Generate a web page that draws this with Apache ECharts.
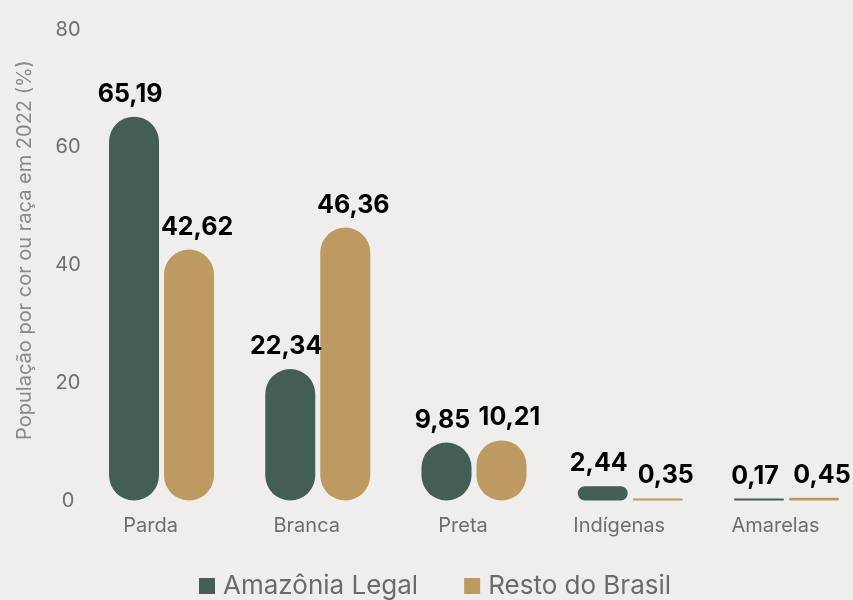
<!DOCTYPE html>
<html>
<head>
<meta charset="utf-8">
<script src="https://cdn.jsdelivr.net/npm/echarts@6/dist/echarts.min.js"></script>
<style>
  html, body { margin: 0; padding: 0; background: #efeeec; overflow: hidden; }
  /* the plot runs slightly past the right edge of the page */
  #chart { width: 880px; height: 600px; }
</style>
</head>
<body>
<div id="chart"></div>
<script>
// População por cor ou raça em 2022 (%)
const categories = ['Parda', 'Branca', 'Preta', 'Indígenas', 'Amarelas'];
const amazoniaLegal = [65.19, 22.34, 9.85, 2.44, 0.17];
const restoDoBrasil = [42.62, 46.36, 10.21, 0.35, 0.45];
const yTicks = [0, 20, 40, 60, 80];

const fmt = v => v.toFixed(2).replace('.', ',');

// value labels above each bar, nudged apart horizontally per series
const valueLabel = dx => ({
  show: true,
  position: 'top',
  distance: 10,
  offset: [dx, 0],
  color: '#000',
  fontFamily: 'Inter',
  fontWeight: 700,
  fontSize: 25,
  formatter: p => fmt(p.value)
});

const chart = echarts.init(document.getElementById('chart'), null, { renderer: 'canvas' });
chart.setOption({
  backgroundColor: '#efeeec',
  animation: false,
  grid: { left: 83.4, width: 781.2, top: 29.5, bottom: 99.5, containLabel: false },
  legend: {
    data: ['Amazônia Legal', 'Resto do Brasil'],
    left: 194,
    top: 568,
    itemWidth: 16,
    itemHeight: 16,
    itemGap: 46,
    icon: 'rect',
    textStyle: { color: '#6b6b6b', fontSize: 26, fontFamily: 'Inter', padding: [0, 0, 0, 3] }
  },
  xAxis: {
    type: 'category',
    data: categories,
    axisLine: { show: false },
    axisTick: { show: false },
    axisLabel: {
      color: '#6e6e6e',
      fontSize: 20,
      fontFamily: 'Inter',
      margin: 15,
      padding: [0, 22, 0, 0]
    }
  },
  yAxis: {
    type: 'value',
    min: yTicks[0],
    max: yTicks[yTicks.length - 1],
    interval: yTicks[1] - yTicks[0],
    name: 'População por cor ou raça em 2022 (%)',
    nameLocation: 'middle',
    nameGap: 48,
    nameTextStyle: { color: '#8a8a8a', fontSize: 20, fontFamily: 'Inter', padding: [0, 0, 0, 30] },
    splitLine: { show: false },
    axisLine: { show: false },
    axisTick: { show: false },
    axisLabel: {
      color: '#6e6e6e',
      fontSize: 20,
      fontFamily: 'Inter',
      align: 'center',
      margin: 15.4,
      padding: [0, 0, 7, 0]
    }
  },
  series: [
    {
      name: 'Amazônia Legal',
      type: 'bar',
      data: amazoniaLegal,
      barWidth: 50,
      barGap: '10%',
      barMinHeight: 2,
      itemStyle: { color: '#435f55', borderRadius: 25 },
      label: valueLabel(-4)
    },
    {
      name: 'Resto do Brasil',
      type: 'bar',
      data: restoDoBrasil,
      barWidth: 50,
      barGap: '10%',
      barMinHeight: 2,
      itemStyle: { color: '#bc9a61', borderRadius: 25 },
      label: valueLabel(8)
    }
  ]
});
</script>
</body>
</html>
